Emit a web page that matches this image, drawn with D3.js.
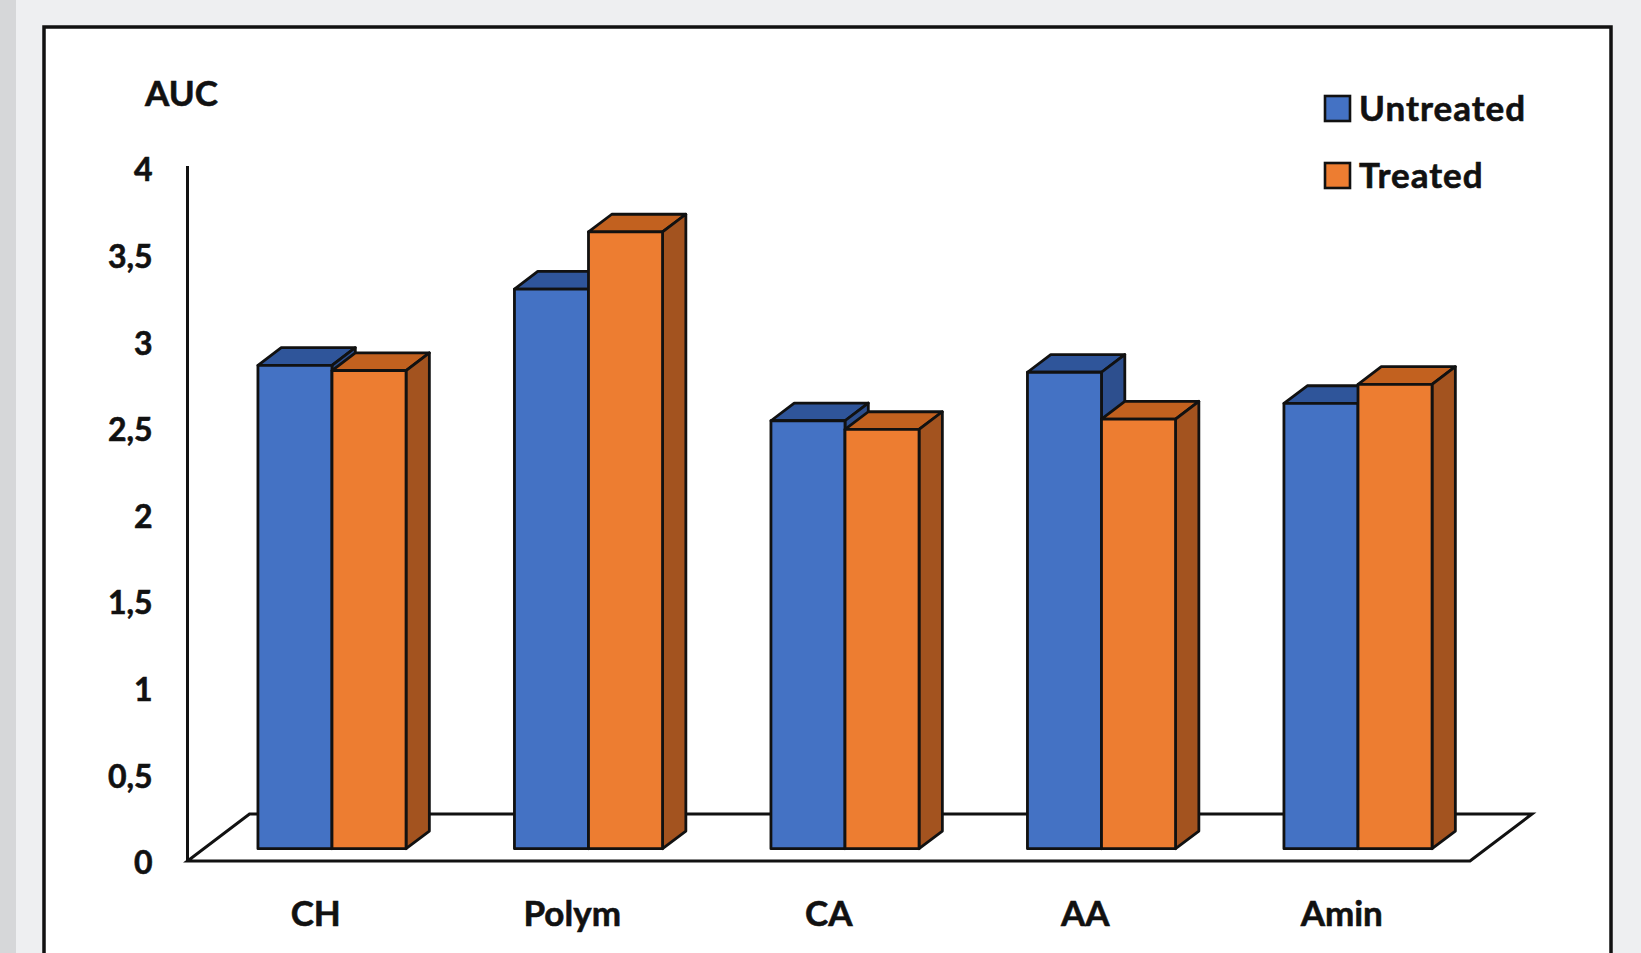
<!DOCTYPE html>
<html>
<head>
<meta charset="utf-8">
<script src="https://cdn.jsdelivr.net/npm/d3@7"></script>
<style>
  html, body { margin: 0; padding: 0; background: #eeeff1; }
  svg { display: block; }
  text { font-family: Lato, "Open Sans", sans-serif; font-weight: 700; fill: #111; stroke: #111; stroke-width: 0.6px; }
</style>
</head>
<body>
<svg id="chart" width="1641" height="953"></svg>
<script>
// AUC per group, untreated vs treated
const categories = ["CH", "Polym", "CA", "AA", "Amin"];
const series = ["Untreated", "Treated"];
const untreated = [2.79, 3.23, 2.47, 2.75, 2.57];
const treated = [2.76, 3.56, 2.42, 2.48, 2.68];
const yTicks = [0, 0.5, 1, 1.5, 2, 2.5, 3, 3.5, 4];
const axisTitle = "AUC";

const values = { Untreated: untreated, Treated: treated };
const faceColors = {
  Untreated: { front: "#4472c4", top: "#2f559a", side: "#2d4f8e" },
  Treated:   { front: "#ed7d31", top: "#c2611f", side: "#a3531f" }
};

const svg = d3.select("#chart");
const W = 1641, H = 953;

// page background and chart frame
svg.append("rect").attr("width", W).attr("height", H).attr("fill", "#eeeff1");
svg.append("rect").attr("x", 0).attr("y", 0).attr("width", 16).attr("height", H).attr("fill", "#d6d7d9");
svg.append("rect").attr("x", 44).attr("y", 27).attr("width", 1567).attr("height", 960)
  .attr("fill", "#ffffff").attr("stroke", "#111").attr("stroke-width", 3.5);

// scales
const x0 = 187.5, x1 = 1470;
const x = d3.scaleBand().domain(categories).range([x0, x1])
  .paddingInner(0.4226).paddingOuter(0.2113);
const xs = d3.scaleBand().domain(series).range([0, x.bandwidth()]);
const y = d3.scaleLinear().domain([0, 4]).range([861, 168]);

// oblique depth of the floor; bars sit in a slice of that depth
const depth = { dx: 62, dy: -47 };
const barFront = 0.262, barBack = 0.638;
const proj = (px, v, d) => [px + d * depth.dx, y(v) + d * depth.dy];

// floor
const floorPts = [proj(x0, 0, 0), proj(x1, 0, 0), proj(x1, 0, 1), proj(x0, 0, 1)];
svg.append("polygon")
  .attr("points", floorPts.map(p => p.join(",")).join(" "))
  .attr("fill", "#ffffff").attr("stroke", "#111").attr("stroke-width", 3)
  .attr("stroke-linejoin", "miter");

// value axis
const fmt = d3.formatLocale({ decimal: ",", thousands: ".", grouping: [3], currency: ["", ""] }).format("~g");
const yAxis = svg.append("g")
  .attr("transform", `translate(${x0},0)`)
  .call(d3.axisLeft(y).tickValues(yTicks).tickFormat(fmt).tickSize(0).tickSizeOuter(0).tickPadding(35));
yAxis.select(".domain").attr("stroke", "#111").attr("stroke-width", 3)
  .attr("d", `M0,${y(4) - 2}V${y(0)}`);
yAxis.selectAll(".tick text")
  .attr("font-size", 32).attr("font-family", "Lato, sans-serif").attr("font-weight", 700)
  .attr("fill", "#111").attr("dy", "0.40em");

// axis title
svg.append("text").attr("x", 145).attr("y", 106).attr("font-size", 35).text(axisTitle);

// 3D columns, drawn left to right so neighbours overlap correctly
const bars = svg.append("g");
categories.forEach((cat, i) => {
  series.forEach(s => {
    const v = values[s][i];
    const left = x(cat) + xs(s), right = left + xs.bandwidth();
    const c = faceColors[s];
    const g = bars.append("g");
    const poly = pts => pts.map(p => p.join(",")).join(" ");
    // top face
    g.append("polygon")
      .attr("points", poly([proj(left, v, barFront), proj(right, v, barFront), proj(right, v, barBack), proj(left, v, barBack)]))
      .attr("fill", c.top);
    // right side face
    g.append("polygon")
      .attr("points", poly([proj(right, 0, barFront), proj(right, v, barFront), proj(right, v, barBack), proj(right, 0, barBack)]))
      .attr("fill", c.side);
    // front face
    g.append("polygon")
      .attr("points", poly([proj(left, 0, barFront), proj(right, 0, barFront), proj(right, v, barFront), proj(left, v, barFront)]))
      .attr("fill", c.front);
    g.selectAll("polygon").attr("stroke", "#111").attr("stroke-width", 2.8).attr("stroke-linejoin", "round");
  });
});

// category labels
svg.append("g").selectAll("text").data(categories).join("text")
  .attr("x", d => x(d) + x.bandwidth() / 2)
  .attr("y", 926)
  .attr("text-anchor", "middle")
  .attr("font-size", 35)
  .text(d => d);

// legend
const legend = svg.append("g").attr("transform", "translate(1325,96)");
series.forEach((s, i) => {
  const row = legend.append("g").attr("transform", `translate(0,${i * 67})`);
  row.append("rect").attr("width", 25).attr("height", 25)
    .attr("fill", faceColors[s].front).attr("stroke", "#111").attr("stroke-width", 2.6);
  row.append("text").attr("x", 34).attr("y", 25).attr("font-size", 35)
    .attr("letter-spacing", 1).text(s);
});
</script>
</body>
</html>
